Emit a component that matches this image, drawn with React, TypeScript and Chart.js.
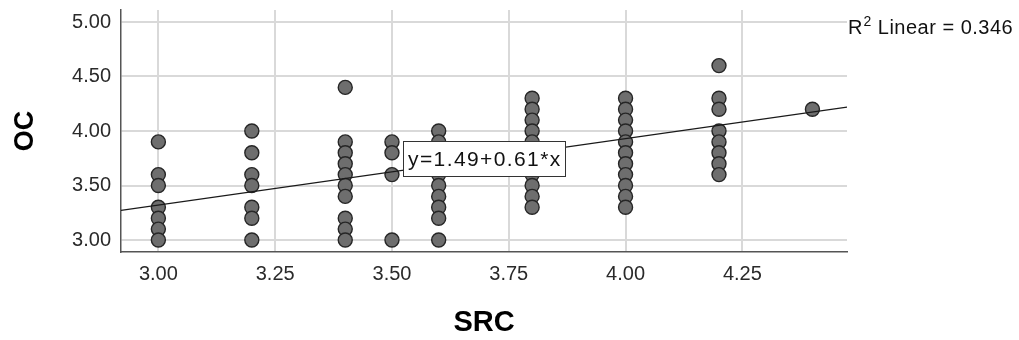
import { useEffect, useRef } from "react";
import { Chart, registerables } from "chart.js";

Chart.register(...registerables);

// ---- data ----
const srcLevels = [3.0, 3.2, 3.4, 3.5, 3.6, 3.8, 4.0, 4.2, 4.4];
const ocAt300 = [3.9, 3.6, 3.5, 3.3, 3.2, 3.1, 3.0];
const ocAt320 = [4.0, 3.8, 3.6, 3.5, 3.3, 3.2, 3.0];
const ocAt340 = [4.4, 3.9, 3.8, 3.7, 3.6, 3.5, 3.4, 3.2, 3.1, 3.0];
const ocAt350 = [3.9, 3.8, 3.6, 3.0];
const ocAt360 = [4.0, 3.9, 3.8, 3.7, 3.6, 3.5, 3.4, 3.3, 3.2, 3.0];
const ocAt380 = [4.3, 4.2, 4.1, 4.0, 3.9, 3.8, 3.7, 3.6, 3.5, 3.4, 3.3];
const ocAt400 = [4.3, 4.2, 4.1, 4.0, 3.9, 3.8, 3.7, 3.6, 3.5, 3.4, 3.3];
const ocAt420 = [4.6, 4.3, 4.2, 4.0, 3.9, 3.8, 3.7, 3.6];
const ocAt440 = [4.2];
const ocByLevel = [ocAt300, ocAt320, ocAt340, ocAt350, ocAt360, ocAt380, ocAt400, ocAt420, ocAt440];

const xTicks = [3.0, 3.25, 3.5, 3.75, 4.0, 4.25];
const yTicks = [3.0, 3.5, 4.0, 4.5, 5.0];
const xRange = [2.92, 4.474];
const yRange = [2.89, 5.11];

const fitIntercept = 1.49;
const fitSlope = 0.61;
const r2Linear = 0.346;
const xTitle = "SRC";
const yTitle = "OC";

const FONT = "'Liberation Sans', Arial, Helvetica, sans-serif";

export default function App() {
  const canvasRef = useRef<HTMLCanvasElement | null>(null);

  useEffect(() => {
    const canvas = canvasRef.current;
    if (!canvas) return;

    const points: { x: number; y: number }[] = [];
    srcLevels.forEach((lv, i) => {
      ocByLevel[i].forEach((v) => points.push({ x: lv, y: v }));
    });

    const fitLine = [
      { x: xRange[0], y: fitIntercept + fitSlope * xRange[0] },
      { x: xRange[1], y: fitIntercept + fitSlope * xRange[1] },
    ];

    const textPlugin = {
      id: "spssText",
      afterDraw(chart: any) {
        const ctx = chart.ctx as CanvasRenderingContext2D;
        const area = chart.chartArea;
        ctx.save();
        // axis titles
        ctx.fillStyle = "#000";
        ctx.textAlign = "center";
        ctx.textBaseline = "middle";
        ctx.font = `bold 29px ${FONT}`;
        ctx.fillText(xTitle, (area.left + area.right) / 2, 323);
        ctx.save();
        ctx.translate(25.5, (area.top + area.bottom) / 2);
        ctx.rotate(-Math.PI / 2);
        ctx.font = `bold 27px ${FONT}`;
        ctx.fillText(yTitle, 0, 0);
        ctx.restore();

        // R² label
        ctx.textAlign = "left";
        ctx.textBaseline = "alphabetic";
        ctx.fillStyle = "#111";
        let x = area.right + 1;
        const base = 34;
        (ctx as any).letterSpacing = "0.5px";
        ctx.font = `20px ${FONT}`;
        ctx.fillText("R", x, base);
        x += ctx.measureText("R").width + 0.5;
        ctx.font = `14px ${FONT}`;
        ctx.fillText("2", x, base - 8);
        x += ctx.measureText("2").width;
        ctx.font = `20px ${FONT}`;
        ctx.fillText(" Linear = " + r2Linear.toFixed(3), x, base);
        (ctx as any).letterSpacing = "0px";

        // equation box
        const bx = 403, by = 141, bw = 163, bh = 36;
        ctx.fillStyle = "#fff";
        ctx.fillRect(bx, by, bw, bh);
        ctx.strokeStyle = "#333";
        ctx.lineWidth = 1;
        ctx.strokeRect(bx + 0.5, by + 0.5, bw - 1, bh - 1);
        ctx.fillStyle = "#111";
        ctx.font = `21px ${FONT}`;
        (ctx as any).letterSpacing = "1.4px";
        ctx.textBaseline = "middle";
        ctx.fillText(
          `y=${fitIntercept.toFixed(2)}+${fitSlope.toFixed(2)}*x`,
          bx + 5,
          by + bh / 2 + 1
        );
        (ctx as any).letterSpacing = "0px";
        ctx.restore();
      },
    };

    const chart = new Chart(canvas, {
      type: "scatter",
      data: {
        datasets: [
          {
            type: "line",
            label: "fit",
            data: fitLine,
            borderColor: "#1a1a1a",
            borderWidth: 1.3,
            pointRadius: 0,
            fill: false,
            order: 0,
          } as any,
          {
            label: "points",
            data: points,
            pointRadius: 7,
            pointBackgroundColor: "#6e6e6e",
            pointBorderColor: "#262626",
            pointBorderWidth: 1.4,
            order: 1,
          },
        ],
      },
      options: {
        responsive: false,
        animation: false,
        devicePixelRatio: 1,
        layout: { padding: { top: 10, right: 172, left: 0, bottom: 0 } },
        plugins: {
          legend: { display: false },
          tooltip: { enabled: false },
        },
        scales: {
          x: {
            type: "linear",
            min: xRange[0],
            max: xRange[1],
            afterBuildTicks: (s: any) => {
              s.ticks = xTicks.map((v) => ({ value: v }));
            },
            afterFit: (s: any) => {
              s.height = 88;
              s.paddingLeft = 0;
              s.paddingRight = 0;
            },
            ticks: {
              padding: 10,
              color: "#2a2a2a",
              font: { family: FONT, size: 20 },
              callback: (v: any) => Number(v).toFixed(2),
              maxRotation: 0,
              autoSkip: false,
            },
            grid: { color: "#d9d9d9", lineWidth: 2, drawTicks: false },
            border: { display: true, color: "#555", width: 1.5 },
          },
          y: {
            type: "linear",
            min: yRange[0],
            max: yRange[1],
            afterBuildTicks: (s: any) => {
              s.ticks = yTicks.map((v) => ({ value: v }));
            },
            afterFit: (s: any) => {
              s.width = 121;
              s.paddingTop = 0;
              s.paddingBottom = 0;
            },
            ticks: {
              padding: 10,
              color: "#2a2a2a",
              font: { family: FONT, size: 20 },
              callback: (v: any) => Number(v).toFixed(2),
              autoSkip: false,
            },
            grid: { color: "#d9d9d9", lineWidth: 2, drawTicks: false },
            border: { display: true, color: "#555", width: 1.5 },
          },
        },
      },
      plugins: [textPlugin],
    });

    return () => chart.destroy();
  }, []);

  return (
    <div style={{ position: "absolute", left: 0, top: 0, width: 1019, height: 340, background: "#fff" }}>
      <canvas ref={canvasRef} width={1019} height={340} style={{ display: "block" }} />
    </div>
  );
}
